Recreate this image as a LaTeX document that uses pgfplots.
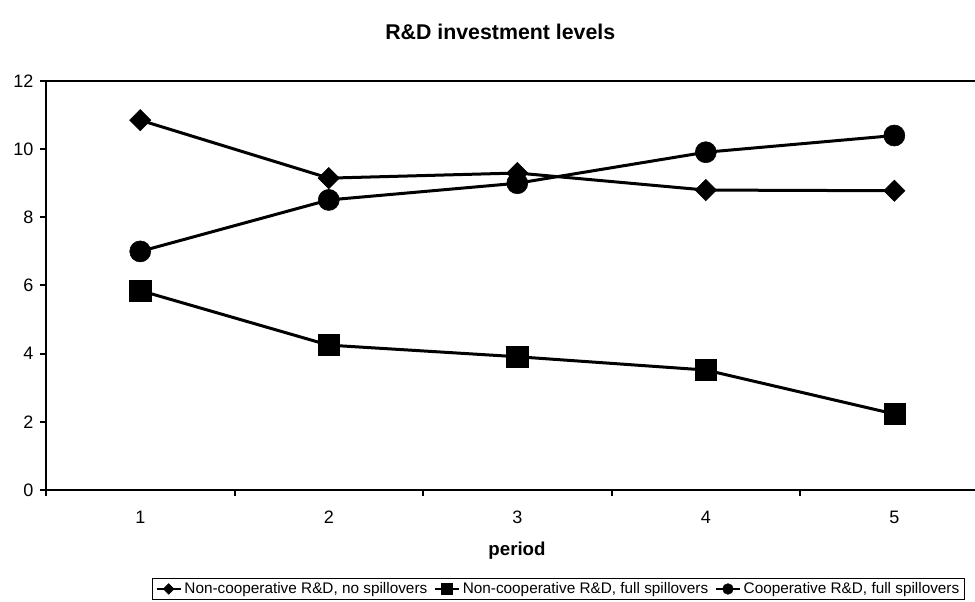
\documentclass[border=0pt]{standalone}
\usepackage{fontspec}
\setmainfont{Liberation Sans}
\usepackage{pgfplots}
\pgfplotsset{compat=1.18}

\begin{document}
\begin{tikzpicture}
\useasboundingbox (-34.5pt,-84pt) rectangle (696.75pt,367.5pt);
\begin{axis}[
  at={(0,0)}, anchor=south west,
  scale only axis,
  width=696.75pt, height=306.75pt,
  xmin=0.5, xmax=5.428,
  ymin=0, ymax=12,
  axis x line*=bottom, axis y line*=left,
  axis line style={-, line width=1.5pt},
  tick align=outside,
  xtick={1,2,3,4,5},
  major x tick style={draw=none},
  minor xtick={0.5,1.5,2.5,3.5,4.5},
  minor tick length=4.5pt,
  minor x tick style={line width=1.5pt, black},
  ytick={0,2,4,6,8,10,12},
  major tick length=4.5pt,
  y tick style={line width=1.5pt, black},
  tick label style={font=\fontsize{13.5}{16}\selectfont},
  /pgf/number format/assume math mode=true,
  xticklabel style={yshift=-7.5pt},
  yticklabel style={xshift=-1.5pt},
  title={R\&D investment levels},
  title style={at={(axis description cs:0.489,1)}, anchor=center, yshift=31pt,
    font=\fontsize{16}{19}\selectfont\bfseries},
  xlabel={period},
  xlabel style={at={(axis description cs:0.507,-0.149)}, anchor=center,
    font=\fontsize{14}{17}\selectfont\bfseries},
  legend columns=3,
  legend style={at={(axis description cs:0.552,-0.242)}, anchor=center,
    draw=black, line width=0.75pt, font=\fontsize{11.5}{13.8}\selectfont,
    inner xsep=2pt, inner ysep=1pt,
    /tikz/every even column/.append style={column sep=3pt}},
  legend image code/.code={
    \draw[mark repeat=2, mark phase=2, line width=1.6pt, mark size=4pt]
      plot coordinates {(0pt,0pt) (9pt,0pt) (18pt,0pt)};},
  clip=false,
]
\draw[line width=1.1pt] (rel axis cs:0,1) -- (rel axis cs:1,1);

\addplot[black, line width=2.25pt, mark=diamond*, mark size=8pt,
  mark options={xscale=1.333, line width=0.4pt}]
  coordinates {(1,10.85) (2,9.15) (3,9.3) (4,8.8) (5,8.78)};
\addlegendentry{Non-cooperative R\&D, no spillovers}

\addplot[black, line width=2.25pt, mark=square*, mark size=7.9pt,
  mark options={line width=0.4pt}]
  coordinates {(1,5.85) (2,4.25) (3,3.91) (4,3.52) (5,2.23)};
\addlegendentry{Non-cooperative R\&D, full spillovers}

\addplot[black, line width=2.25pt, mark=*, mark size=7.9pt,
  mark options={line width=0.4pt}]
  coordinates {(1,7.0) (2,8.51) (3,9.0) (4,9.91) (5,10.4)};
\addlegendentry{Cooperative R\&D, full spillovers}
\end{axis}
\end{tikzpicture}
\end{document}
